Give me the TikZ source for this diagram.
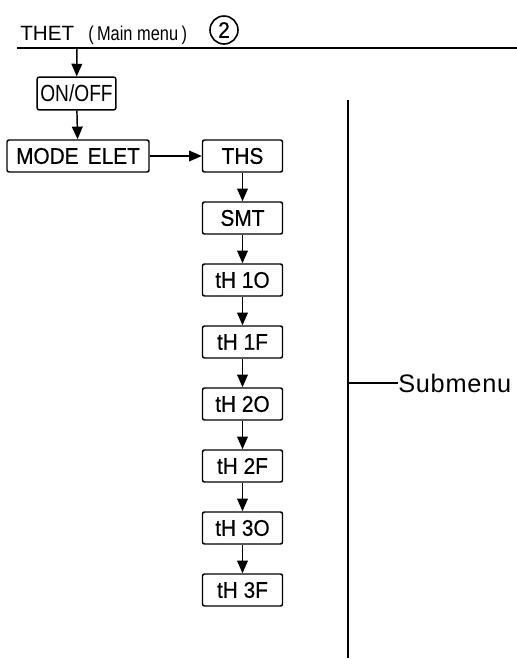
\documentclass[tikz,border=0pt]{standalone}
\usepackage{fontspec}
\setmainfont{Liberation Sans}
\newfontfamily\narrowfont[FakeStretch=0.82]{Liberation Sans}
\newfontfamily\boxfont[FakeStretch=0.92, FakeBold=0.6]{Liberation Sans}
\usetikzlibrary{arrows.meta}

\begin{document}
\begin{tikzpicture}[
    x=0.75pt, y=-0.75pt,
    % Estilos de las cajas
    menubox/.style={draw=black, line width=1.1pt, rounded corners=1.5pt, fill=white,
        minimum width=60pt, minimum height=24pt, inner sep=0pt,
        font=\boxfont\fontsize{17}{19}\selectfont},
    widebox/.style={menubox, minimum width=106.5pt},
    flow/.style={line width=1.1pt, -{Triangle[length=9.5pt, width=8pt]}},
    rule/.style={line width=1.2pt},
    % Estilos para los textos
    titletext/.style={font=\fontsize{15.5}{17}\selectfont, anchor=base west, inner sep=0pt},
    subtext/.style={font=\narrowfont\fontsize{15}{17}\selectfont, anchor=base west, inner sep=0pt},
    sidetext/.style={font=\addfontfeature{LetterSpace=3}\fontsize{19}{21}\selectfont, anchor=west, inner sep=0pt}
]
\useasboundingbox (0,0) rectangle (517,672);

% --- MAIN MENU ---
\node[titletext] (thet) at (20, 40) {THET};
\node[subtext] (main) at (88, 40) {(\,Main menu\,)};
\node[draw, circle, line width=1.2pt, minimum size=21pt, inner sep=0pt,
      font=\boxfont\fontsize{17}{19}\selectfont] (num) at (224, 30) {2};
\coordinate (lineL) at (17, 48);
\coordinate (lineR) at (517, 48);
\coordinate (lineA) at (77, 48);
\draw[rule] (lineL) -- (lineR);

% --- ON/OFF Y MODE ---
\node[menubox, minimum width=59pt, minimum height=24.5pt,
      font=\narrowfont\fontsize{17.5}{20}\selectfont] (onoff) at (76.5, 93.5) {ON/OFF};
\node[widebox, font=\boxfont\fontsize{17}{19}\selectfont] (mode) at (78, 156) {MODE\hspace{0.4em}ELET};
\draw[flow] (lineA) -- (onoff);
\draw[flow] (onoff) -- (mode);

% --- SUBMENU ---
\node[menubox] (ths) at (242.5, 156) {THS};
\node[menubox] (smt) at (242.5, 218) {SMT};
\node[menubox] (th1o) at (242.5, 280) {tH 1O};
\node[menubox] (th1f) at (242.5, 342) {tH 1F};
\node[menubox] (th2o) at (242.5, 404) {tH 2O};
\node[menubox] (th2f) at (242.5, 466) {tH 2F};
\node[menubox] (th3o) at (242.5, 528) {tH 3O};
\node[menubox] (th3f) at (242.5, 590) {tH 3F};
\draw[flow] (mode) -- (ths);
\foreach \a/\b in {ths/smt, smt/th1o, th1o/th1f, th1f/th2o, th2o/th2f, th2f/th3o, th3o/th3f}
    \draw[flow] (\a) -- (\b);

% --- BARRA LATERAL ---
\coordinate (barT) at (348, 100);
\coordinate (barB) at (348, 658);
\coordinate (barM) at (348, 383);
\node[sidetext] (sub) at (398, 383) {Submenu};
\draw[rule] (barT) -- (barB);
\draw[rule] (barM) -- (sub.west);

\end{tikzpicture}
\end{document}
